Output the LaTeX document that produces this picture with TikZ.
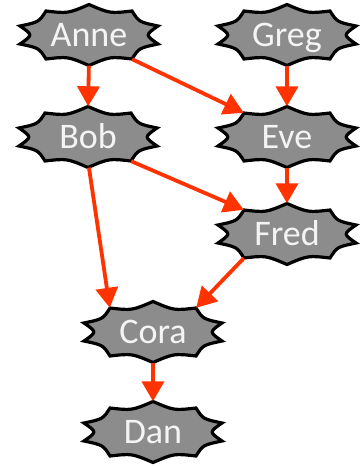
\documentclass[tikz,border=0pt]{standalone}
\usepackage{fontspec}
\setmainfont{Carlito}
\usetikzlibrary{arrows.meta}
\definecolor{sealfill}{RGB}{140,140,140}
\definecolor{sealtext}{RGB}{244,244,244}
\definecolor{linkred}{RGB}{255,51,0}
\tikzset{
  sealshape/.style={draw=black, fill=sealfill, line width=3.2pt, line join=miter, miter limit=4},
  person/.style={rectangle, inner sep=0pt, minimum width=86pt, minimum height=48pt,
    text=sealtext, font=\fontsize{36}{36}\selectfont, text height=23pt, text depth=0pt},
  link/.style={draw=linkred, line width=3.8pt, -{Triangle[length=20pt,width=22pt]}},
  tip/.style={shorten >=6.5pt},
  tail/.style={shorten <=6.5pt}
}
\begin{document}
\begin{tikzpicture}[x=1pt,y=-1pt]
\useasboundingbox (0,0) rectangle (361,466);
% ten-point seals with concave edges, then the names on top
\foreach \n/\p in {Anne/{89,35}, Greg/{287,35}, Bob/{88,137}, Eve/{287,137},
                   Fred/{287,234}, Cora/{153,332}, Dan/{153,432}} {
  \draw[sealshape, shift={(\p)}]
    (0,30.5) .. controls (21,21.5) .. (43,24)
    .. controls (50,13) .. (69,9)
    .. controls (56,0) .. (69,-9)
    .. controls (50,-13) .. (43,-24)
    .. controls (21,-21.5) .. (0,-30.5)
    .. controls (-21,-21.5) .. (-43,-24)
    .. controls (-50,-13) .. (-69,-9)
    .. controls (-56,0) .. (-69,9)
    .. controls (-50,13) .. (-43,24)
    .. controls (-21,21.5) .. cycle;
  \node[person] (\n) at (\p) {\n};
}
% relations
\draw[link, tail, tip] (Anne.south) -- (Bob.north);
\draw[link] (Anne.south east) -- (Eve.north west);
\draw[link, tail, tip] (Greg.south) -- (Eve.north);
\draw[link, tail] (Bob.south) -- (Cora.north west);
\draw[link] (Bob.south east) -- (Fred.north west);
\draw[link, tail, tip] (Eve.south) -- (Fred.north);
\draw[link] (Fred.south west) -- (Cora.north east);
\draw[link, tail, tip] (Cora.south) -- (Dan.north);
\end{tikzpicture}
\end{document}
